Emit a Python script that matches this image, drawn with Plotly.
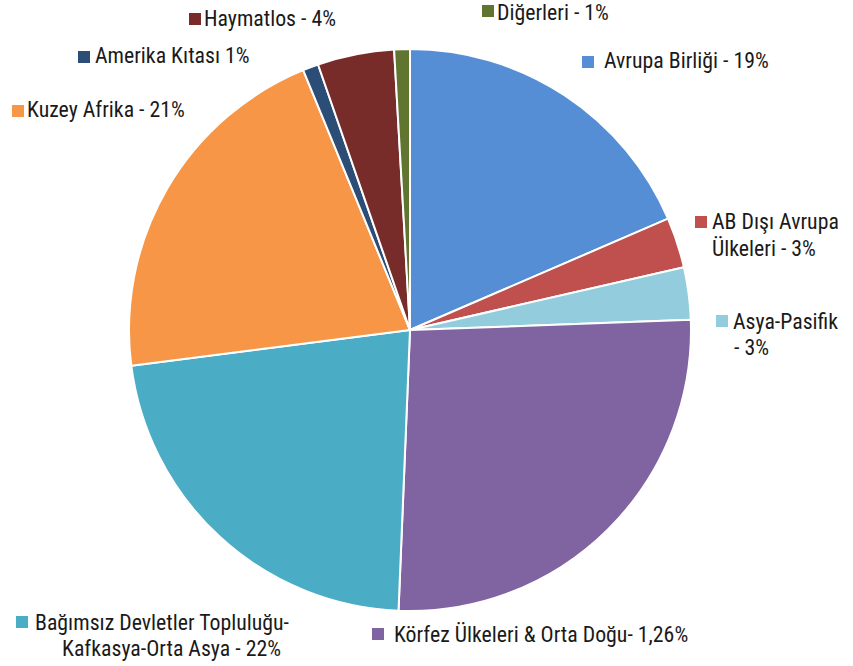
import plotly.graph_objects as go

# ---- data (clockwise from 12 o'clock) ----
categories = ["Avrupa Birliği", "AB Dışı Avrupa Ülkeleri", "Asya-Pasifik",
              "Körfez Ülkeleri & Orta Doğu", "Bağımsız Devletler Topluluğu-Kafkasya-Orta Asya",
              "Kuzey Afrika", "Amerika Kıtası", "Haymatlos", "Diğerleri"]
values = [18.5, 2.9, 3.0, 26.2, 22.3, 20.8, 0.9, 4.4, 0.9]
label_texts = ["Avrupa Birliği - 19%", "AB Dışı Avrupa<br>Ülkeleri - 3%", "Asya-Pasifik<br>- 3%",
               "Körfez Ülkeleri & Orta Doğu- 1,26%",
               "Bağımsız Devletler Topluluğu-<br>Kafkasya-Orta Asya - 22%",
               "Kuzey Afrika - 21%", "Amerika Kıtası 1%", "Haymatlos - 4%", "Diğerleri - 1%"]
colors = ["#558ED5", "#C0504D", "#93CDDD", "#8064A2", "#4BACC6",
          "#F79646", "#2C4D75", "#772C2A", "#5F7530"]

# ---- layout: label placement (screen pixels) ----
W, H = 853, 666
PAD = 2          # annotation inner padding
LINE = 26        # line spacing of multi-line labels
SQ = 12          # swatch size
# (swatch left x, swatch centre y, [(line x, anchor) per line], first-line centre y)
label_pos = [
    (582, 62, [(604, "left")], 61),
    (695, 222, [(712, "left"), (712, "left")], 222),
    (716, 321, [(733, "left"), (734, "left")], 321),
    (372, 634, [(394, "left")], 634),
    (16, 622, [(35, "left"), (281, "right")], 622),
    (12, 111, [(27, "left")], 110),
    (78, 57, [(95, "left")], 56),
    (189, 19, [(204, "left")], 19),
    (482, 11, [(497, "left")], 12),
]

FONT = "Roboto Condensed, Archivo Narrow, PT Sans Narrow, sans-serif"
FS = 21.8


def px(x):
    return x / W


def py(y):
    return 1 - y / H


fig = go.Figure(go.Pie(
    labels=categories,
    values=values,
    sort=False,
    direction="clockwise",
    rotation=0,
    marker=dict(colors=colors, line=dict(color="white", width=2)),
    textinfo="none",
    hoverinfo="label+percent",
    domain=dict(x=[px(129), px(691)], y=[py(611), py(49)]),
    showlegend=False,
))

annotations = []
shapes = []
for (sx, sy, lines_pos, ty), txt, col in zip(label_pos, label_texts, colors):
    shapes.append(dict(
        type="rect", xref="paper", yref="paper",
        x0=px(sx), x1=px(sx + SQ), y0=py(sy + SQ / 2), y1=py(sy - SQ / 2),
        fillcolor=col, line=dict(width=0),
    ))
    for i, (line, (lx, anchor)) in enumerate(zip(txt.split("<br>"), lines_pos)):
        x = lx - PAD if anchor == "left" else lx + PAD
        annotations.append(dict(
            x=px(x), y=py(ty + i * LINE), xref="paper", yref="paper",
            text=line, showarrow=False, xanchor=anchor, yanchor="middle", align=anchor,
            font=dict(family=FONT, size=FS, color="#1a1a1a"),
        ))

fig.update_layout(
    width=W, height=H,
    margin=dict(l=0, r=0, t=0, b=0),
    paper_bgcolor="white",
    plot_bgcolor="white",
    annotations=annotations,
    shapes=shapes,
)

fig.write_html("out.html",
               config={"displayModeBar": False},
               post_script="document.body.style.margin='0';document.body.style.overflow='hidden';")
